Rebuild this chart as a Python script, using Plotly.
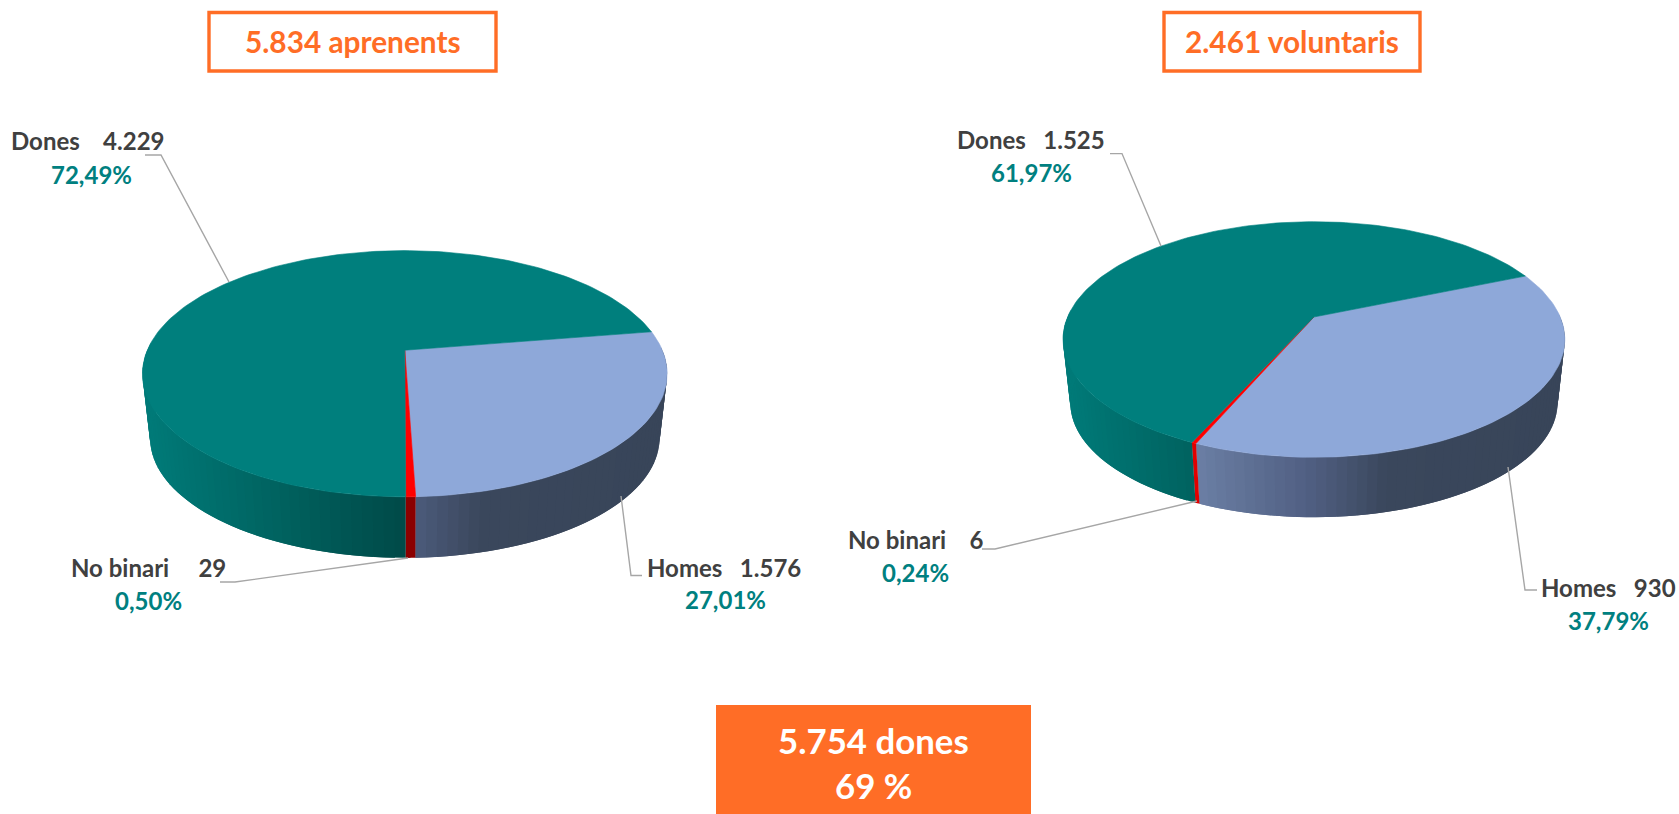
import math
import plotly.graph_objects as go

# ---------- data ----------
categories = ["Homes", "No binari", "Dones"]
aprenents_values = [1576, 29, 4229]
voluntaris_values = [930, 6, 1525]
aprenents_title = "5.834 aprenents"
voluntaris_title = "2.461 voluntaris"
summary_lines = ["5.754 dones", "69 %"]

# ---------- style ----------
W, H = 1679, 814
ORANGE = "#FF6D26"
TEAL = "#008080"
DARK = "#404040"
LEADER = "#A6A6A6"
FONT = "Lato"
TOP_COLORS = {"Homes": "#8EA8D9", "No binari": "#FF0000", "Dones": "#007F7D"}
# side colour stops, keyed on horizontal position across the pie (-1 left .. 1 right)
SIDE_STOPS = {
    "Homes": [(-0.5, (108, 128, 166)), (-0.02, (80, 95, 130)), (0.3, (58, 71, 92)), (1.0, (56, 69, 89))],
    "No binari": [(-0.5, (228, 0, 0)), (0.0, (139, 0, 0)), (1.0, (139, 0, 0))],
    "Dones": [(-1.0, (0, 122, 120)), (-0.45, (0, 96, 93)), (0.0, (0, 74, 72)), (1.0, (0, 74, 72))],
}
K = 0.191          # perspective strength
DEPTH_SCALE = 0.971


def shade(cat, f):
    stops = SIDE_STOPS[cat]
    if f <= stops[0][0]:
        c = stops[0][1]
    elif f >= stops[-1][0]:
        c = stops[-1][1]
    else:
        for (a, ca), (b, cb) in zip(stops, stops[1:]):
            if a <= f <= b:
                t = (f - a) / (b - a)
                c = tuple(ca[i] + (cb[i] - ca[i]) * t for i in range(3))
                break
    return "rgb(%d,%d,%d)" % tuple(round(v) for v in c)


def project(p, deg):
    t = math.radians(deg)
    X, Y = math.cos(t), math.sin(t)
    w = 1 + K * Y
    return p["B"] * X / w, -p["A"] * Y / w


def top_pt(p, deg):
    u, v = project(p, deg)
    return p["cx"] + u, p["cy"] + v


def bot_pt(p, deg):
    u, v = project(p, deg)
    return p["cx"] + DEPTH_SCALE * u, p["cy"] + DEPTH_SCALE * v + p["dy"]


fig = go.Figure()


def add_poly(xs, ys, color, lw=0.6):
    fig.add_trace(go.Scatter(
        x=xs, y=ys, mode="lines", fill="toself", fillcolor=color,
        line=dict(color=color, width=lw), hoverinfo="skip", showlegend=False))


def draw_pie(values, p):
    total = sum(values)
    start = p["start"]
    spans = []
    for cat, val in zip(categories, values):
        end = start - val / total * 360
        spans.append((cat, start, end))
        start = end
    # sides: each strip reaches back under the previous-painted one, so no seams show
    for cat, a0, a1 in spans:
        n = max(2, int(abs(a1 - a0) / 2.0) + 1)
        step = (a1 - a0) / n
        for i in range(n):
            s0 = a0 + step * i
            s1 = s0 + step
            if math.sin(math.radians((s0 + s1) / 2)) > 0.02:
                continue
            e1 = s1 + step if i < n - 1 else s1
            x0, y0 = top_pt(p, s0)
            x1, y1 = top_pt(p, e1)
            x2, y2 = bot_pt(p, e1)
            x3, y3 = bot_pt(p, s0)
            f = project(p, (s0 + s1) / 2)[0] / p["B"]
            add_poly([x0, x1, x2, x3, x0], [y0, y1, y2, y3, y0], shade(cat, f), 0)
    # top face
    for cat, a0, a1 in spans:
        n = max(2, int(abs(a1 - a0) / 1.5) + 1)
        xs, ys = [p["cx"]], [p["cy"]]
        for i in range(n + 1):
            x, y = top_pt(p, a0 + (a1 - a0) * i / n)
            xs.append(x)
            ys.append(y)
        xs.append(p["cx"])
        ys.append(p["cy"])
        add_poly(xs, ys, TOP_COLORS[cat])


def fmt_value(v):
    return f"{v:,}".replace(",", ".")


def fmt_pct(v, total):
    return f"{v / total * 100:.2f}".replace(".", ",") + "%"


def text(x, y, s, color, size, anchor="center"):
    fig.add_annotation(x=x, y=y, xref="x", yref="y", text=s, showarrow=False,
                       xanchor=anchor, yanchor="middle",
                       font=dict(family=FONT, size=size, color=color, weight="bold"))


def leader(xs, ys):
    fig.add_trace(go.Scatter(x=xs, y=ys, mode="lines",
                             line=dict(color=LEADER, width=1.4),
                             hoverinfo="skip", showlegend=False))


def labels(values, gaps, layout):
    total = sum(values)
    for cat, val, gap in zip(categories, values, gaps):
        L = layout[cat]
        text(L["tx"], L["ty"], cat + "\u00a0" * gap + fmt_value(val), DARK, 24, "left")
        text(L["px"], L["py"], fmt_pct(val, total), TEAL, 24)
        leader(L["lx"], L["ly"])


left_geo = dict(cx=404.8, cy=350.2, A=118.6, B=257.5, dy=65.3, start=9.2)
right_geo = dict(cx=1313.9, cy=317.0, A=113.5, B=246.3, dy=64.0, start=22.8)

draw_pie(aprenents_values, left_geo)
draw_pie(voluntaris_values, right_geo)

labels(aprenents_values, [3, 5, 4], {
    "Dones": dict(tx=9, ty=140, px=91, py=174, lx=[145, 161, 229], ly=[155, 155, 282]),
    "Homes": dict(tx=645, ty=567, px=725, py=599, lx=[621, 631, 642], ly=[496, 575.5, 575.5]),
    "No binari": dict(tx=69, ty=567, px=148, py=600, lx=[220, 235, 408], ly=[582, 582, 558]),
})
labels(voluntaris_values, [3, 4, 3], {
    "Dones": dict(tx=955, ty=139, px=1031, py=172, lx=[1110, 1122, 1161], ly=[153.6, 153.6, 246]),
    "Homes": dict(tx=1539, ty=587, px=1608, py=620, lx=[1508, 1525, 1537], ly=[467, 590, 590]),
    "No binari": dict(tx=846, ty=539, px=915, py=572, lx=[1197, 995, 982], ly=[501, 549, 549]),
})

# title boxes
for x0, x1, y0, y1, s in [(209, 496, 12.5, 71, aprenents_title), (1164, 1420, 12.5, 71, voluntaris_title)]:
    fig.add_shape(type="rect", x0=x0, x1=x1, y0=y0, y1=y1, xref="x", yref="y",
                  line=dict(color=ORANGE, width=3.4), fillcolor="white")
    text((x0 + x1) / 2, 41, s, ORANGE, 29.8)

# summary box
fig.add_shape(type="rect", x0=716, x1=1031, y0=705, y1=814, xref="x", yref="y",
              line=dict(width=0), fillcolor=ORANGE)
text(873.5, 740, summary_lines[0], "white", 34.8)
text(873.5, 785, summary_lines[1], "white", 34.8)

fig.update_layout(
    width=W, height=H, margin=dict(l=0, r=0, t=0, b=0),
    paper_bgcolor="white", plot_bgcolor="white", showlegend=False,
    xaxis=dict(range=[0, W], visible=False, fixedrange=True),
    yaxis=dict(range=[H, 0], visible=False, fixedrange=True),
)
fig.write_html("out.html", config={"displayModeBar": False},
               post_script="document.body.style.margin='0';document.body.style.overflow='hidden';")
